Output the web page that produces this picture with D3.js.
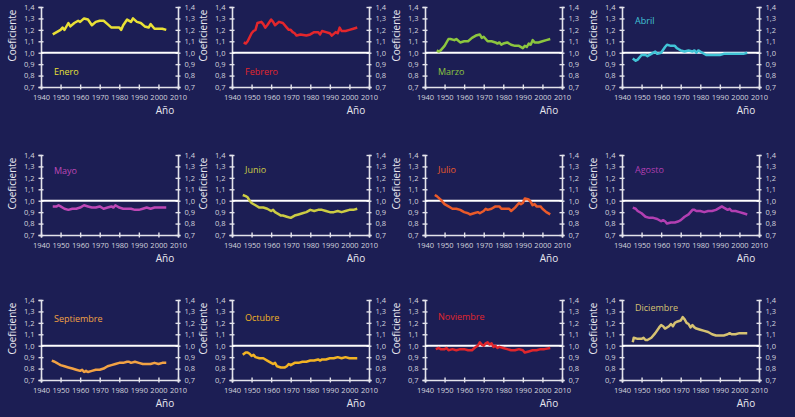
<!DOCTYPE html>
<html>
<head>
<meta charset="utf-8">
<script src="https://cdn.jsdelivr.net/npm/d3@7"></script>
<style>
  html, body { margin: 0; padding: 0; background: #1c1e54; }
  svg { display: block; }
  text { font-family: "Open Sans", "Liberation Sans", sans-serif; }
</style>
</head>
<body>
<svg id="chart"></svg>
<script>
// data: [year, coefficient]
const months = ["Enero", "Febrero", "Marzo", "Abril", "Mayo", "Junio",
  "Julio", "Agosto", "Septiembre", "Octubre", "Noviembre", "Diciembre"];

const enero = [[1946,1.16],[1948,1.18],[1950,1.20],[1951,1.22],[1952,1.20],[1954,1.26],[1955,1.23],[1957,1.26],
  [1959,1.28],[1960,1.27],[1962,1.30],[1964,1.29],[1966,1.24],[1968,1.27],[1970,1.28],[1972,1.28],[1974,1.25],
  [1976,1.22],[1978,1.22],[1980,1.22],[1981,1.20],[1982,1.24],[1984,1.29],[1986,1.27],[1987,1.30],[1989,1.27],
  [1991,1.26],[1993,1.23],[1995,1.22],[1996,1.25],[1998,1.21],[2000,1.21],[2002,1.21],[2004,1.20]];
const febrero = [[1946,1.09],[1947,1.08],[1948,1.10],[1950,1.17],[1951,1.19],[1952,1.20],[1953,1.26],[1955,1.27],
  [1956,1.25],[1957,1.22],[1958,1.24],[1960,1.29],[1961,1.27],[1962,1.24],[1964,1.27],[1966,1.26],[1968,1.22],
  [1969,1.20],[1970,1.20],[1971,1.18],[1972,1.17],[1973,1.15],[1975,1.16],[1978,1.15],[1980,1.16],[1982,1.18],
  [1984,1.18],[1985,1.16],[1986,1.19],[1988,1.18],[1990,1.17],[1991,1.15],[1993,1.18],[1994,1.17],[1995,1.22],
  [1996,1.19],[1998,1.19],[2000,1.20],[2002,1.21],[2004,1.22]];
const marzo = [[1946,1.02],[1947,1.01],[1948,1.02],[1950,1.06],[1952,1.12],[1953,1.12],[1955,1.11],[1956,1.12],
  [1958,1.09],[1960,1.10],[1962,1.10],[1964,1.13],[1966,1.15],[1968,1.16],[1969,1.13],[1970,1.14],[1972,1.10],
  [1974,1.10],[1976,1.09],[1977,1.08],[1978,1.09],[1979,1.07],[1980,1.08],[1982,1.09],[1984,1.07],[1986,1.06],
  [1988,1.06],[1990,1.04],[1991,1.06],[1992,1.05],[1993,1.08],[1994,1.07],[1995,1.11],[1996,1.09],[1998,1.09],
  [2000,1.10],[2002,1.11],[2004,1.12]];
const abril = [[1945.5,0.95],[1947,0.93],[1948,0.94],[1950,0.98],[1952,0.98],[1953,0.97],[1955,0.99],[1957,1.01],
  [1958,0.99],[1960,1.00],[1962,1.05],[1963,1.07],[1965,1.06],[1967,1.06],[1968,1.04],[1969,1.03],[1970,1.02],
  [1972,1.01],[1974,1.02],[1976,1.01],[1977,1.02],[1978,1.00],[1979,1.02],[1981,1.00],[1983,0.98],[1985,0.98],
  [1987,0.98],[1990,0.98],[1992,0.99],[1995,0.99],[1998,0.99],[2000,0.99],[2002,0.99],[2004,1.00]];
const mayo = [[1946,0.95],[1948,0.95],[1949,0.96],[1950,0.95],[1952,0.93],[1954,0.92],[1956,0.93],[1958,0.93],
  [1960,0.94],[1962,0.96],[1964,0.95],[1966,0.94],[1968,0.94],[1970,0.95],[1972,0.93],[1974,0.94],[1976,0.95],
  [1977,0.94],[1978,0.96],[1980,0.94],[1982,0.93],[1984,0.93],[1986,0.93],[1988,0.92],[1990,0.92],[1992,0.93],
  [1994,0.94],[1996,0.93],[1998,0.94],[2000,0.94],[2002,0.94],[2004,0.94]];
const junio = [[1945.5,1.05],[1947,1.04],[1948,1.03],[1949,1.00],[1950,0.98],[1952,0.96],[1954,0.94],[1956,0.94],
  [1958,0.93],[1960,0.91],[1961,0.92],[1962,0.90],[1964,0.88],[1965,0.87],[1966,0.87],[1968,0.86],[1970,0.85],
  [1972,0.87],[1974,0.88],[1976,0.89],[1978,0.90],[1980,0.92],[1982,0.91],[1984,0.92],[1986,0.92],[1988,0.91],
  [1990,0.90],[1992,0.90],[1994,0.91],[1996,0.90],[1998,0.91],[2000,0.92],[2002,0.92],[2004,0.93]];
const julio = [[1945,1.05],[1946,1.04],[1948,1.01],[1950,0.97],[1952,0.95],[1954,0.93],[1956,0.93],[1958,0.92],
  [1960,0.90],[1962,0.89],[1963,0.88],[1965,0.89],[1967,0.90],[1968,0.89],[1970,0.91],[1971,0.93],[1972,0.92],
  [1974,0.93],[1976,0.95],[1978,0.95],[1979,0.93],[1981,0.93],[1983,0.93],[1984,0.91],[1986,0.94],[1988,0.98],
  [1989,0.97],[1990,0.98],[1991,1.02],[1993,1.01],[1994,0.99],[1995,0.96],[1996,0.97],[1997,0.95],[1999,0.95],
  [2000,0.93],[2002,0.90],[2004,0.88]];
const agosto = [[1945.5,0.94],[1947,0.93],[1948,0.91],[1950,0.89],[1952,0.86],[1954,0.85],[1956,0.85],[1958,0.84],
  [1960,0.82],[1961,0.83],[1962,0.82],[1963,0.80],[1965,0.81],[1967,0.81],[1969,0.82],[1970,0.83],[1972,0.86],
  [1974,0.88],[1976,0.92],[1977,0.92],[1978,0.91],[1980,0.91],[1982,0.90],[1984,0.91],[1986,0.91],[1988,0.92],
  [1990,0.94],[1991,0.95],[1992,0.94],[1994,0.92],[1995,0.93],[1996,0.91],[1998,0.91],[2000,0.90],[2002,0.89],
  [2004,0.88]];
const septiembre = [[1945.5,0.87],[1947,0.86],[1948,0.85],[1949,0.84],[1950,0.83],[1952,0.82],[1954,0.81],
  [1956,0.80],[1958,0.79],[1960,0.78],[1961,0.79],[1962,0.77],[1963,0.78],[1964,0.77],[1966,0.78],[1968,0.79],
  [1970,0.79],[1972,0.80],[1974,0.82],[1976,0.83],[1978,0.84],[1980,0.85],[1982,0.85],[1984,0.86],[1985,0.86],
  [1986,0.85],[1988,0.86],[1990,0.85],[1992,0.84],[1994,0.84],[1996,0.84],[1998,0.85],[2000,0.84],[2002,0.85],
  [2004,0.85]];
const octubre = [[1945.5,0.92],[1947,0.94],[1948,0.94],[1949,0.93],[1950,0.91],[1951,0.92],[1952,0.90],[1954,0.89],
  [1956,0.89],[1958,0.87],[1960,0.85],[1961,0.84],[1962,0.85],[1963,0.82],[1965,0.81],[1967,0.81],[1968,0.82],
  [1969,0.84],[1970,0.83],[1972,0.85],[1974,0.85],[1976,0.86],[1978,0.86],[1980,0.87],[1982,0.87],[1984,0.88],
  [1985,0.87],[1986,0.88],[1988,0.88],[1990,0.89],[1992,0.89],[1994,0.90],[1996,0.89],[1998,0.90],[2000,0.89],
  [2002,0.89],[2004,0.89]];
const noviembre = [[1945.5,0.97],[1947,0.98],[1948,0.97],[1950,0.97],[1951,0.98],[1952,0.96],[1954,0.97],
  [1956,0.96],[1958,0.97],[1960,0.97],[1962,0.96],[1964,0.96],[1966,0.99],[1967,1.00],[1968,1.03],[1969,1.01],
  [1970,1.00],[1971,1.02],[1972,1.03],[1973,1.01],[1974,1.02],[1975,0.99],[1976,1.00],[1977,0.98],[1978,0.99],
  [1980,0.98],[1982,0.97],[1984,0.96],[1986,0.96],[1988,0.97],[1990,0.96],[1991,0.94],[1993,0.95],[1995,0.96],
  [1997,0.96],[1999,0.97],[2001,0.97],[2004,0.98]];
const diciembre = [[1945.5,1.03],[1946,1.07],[1948,1.06],[1950,1.06],[1951,1.07],[1952,1.05],[1953,1.05],
  [1955,1.07],[1957,1.11],[1959,1.16],[1960,1.18],[1961,1.17],[1962,1.15],[1964,1.17],[1965,1.19],[1966,1.17],
  [1967,1.20],[1968,1.21],[1970,1.22],[1971,1.25],[1972,1.23],[1973,1.20],[1974,1.19],[1975,1.16],[1976,1.18],
  [1977,1.16],[1978,1.15],[1980,1.14],[1982,1.13],[1984,1.12],[1986,1.10],[1988,1.09],[1990,1.09],[1992,1.09],
  [1994,1.10],[1995,1.11],[1996,1.10],[1998,1.10],[2000,1.11],[2002,1.11],[2004,1.11]];

const series = [enero, febrero, marzo, abril, mayo, junio, julio, agosto, septiembre, octubre, noviembre, diciembre];
const yearTicks = [1940, 1950, 1960, 1970, 1980, 1990, 2000, 2010];
const coefTicks = [0.7, 0.8, 0.9, 1.0, 1.1, 1.2, 1.3, 1.4];

// styling / layout
const colors = ["#e9e036", "#e3262c", "#8cc63f", "#41c3d6", "#bd48b6", "#cccc44",
  "#ea5a2a", "#b23fb2", "#f2a244", "#f2b324", "#e0262c", "#d6c272"];
const labelLevel = [0.835, 0.835, 0.835, 1.28, 1.26, 1.27, 1.27, 1.27, 1.235, 1.24, 1.25, 1.33];
const colX = [41, 232, 425, 622];
const rowY = [7, 155, 300];
const W = 137, H = 80;
const axisColor = "#e4e4ec";

const svg = d3.select("#chart").attr("width", 795).attr("height", 417);
svg.append("rect").attr("width", 795).attr("height", 417).attr("fill", "#1c1e54");

const fmt = d => d3.format(".1f")(d).replace(".", ",");

series.forEach((data, i) => {
  const g = svg.append("g")
    .attr("transform", `translate(${colX[i % 4]},${rowY[Math.floor(i / 4)]})`);

  const x = d3.scaleLinear().domain([1940, 2010]).range([0, W]);
  const y = d3.scaleLinear().domain([0.7, 1.4]).range([H, 0]);

  // left axis
  const left = g.append("g")
    .call(d3.axisLeft(y).tickValues(coefTicks).tickFormat(fmt).tickSize(2.5).tickPadding(4));
  // right axis
  const right = g.append("g")
    .attr("transform", `translate(${W},0)`)
    .call(d3.axisRight(y).tickValues(coefTicks).tickFormat(fmt).tickSize(2.5).tickPadding(4));
  // bottom axis
  const bottom = g.append("g")
    .attr("transform", `translate(0,${H})`)
    .call(d3.axisBottom(x).tickValues(yearTicks).tickFormat(d3.format("d")).tickSize(2.5).tickPadding(5));

  [left, right].forEach(a => a.selectAll(".tick line").attr("x1", -2.5).attr("x2", 2.5));
  bottom.selectAll(".tick line").attr("y1", -2.5).attr("y2", 2.5);

  [left, right, bottom].forEach(a => {
    a.select(".domain").attr("stroke", axisColor).attr("stroke-width", 1.6);
    a.selectAll(".tick line").attr("stroke", axisColor).attr("stroke-width", 1.4);
    a.selectAll(".tick text").attr("fill", "#d4d4de").style("font-size", "7.5px")
      .style("font-family", "'Open Sans', sans-serif");
  });

  // reference line at 1,0
  g.append("line")
    .attr("x1", 0).attr("x2", W)
    .attr("y1", y(1)).attr("y2", y(1))
    .attr("stroke", "#ffffff").attr("stroke-width", 2);

  // series line
  const line = d3.line().x(d => x(d[0])).y(d => y(d[1]));
  g.append("path")
    .datum(data)
    .attr("d", line)
    .attr("fill", "none")
    .attr("stroke", colors[i])
    .attr("stroke-width", 2.5)
    .attr("stroke-linejoin", "round");

  // month label
  g.append("text")
    .attr("x", 13)
    .attr("y", y(labelLevel[i]))
    .attr("dy", "0.35em")
    .attr("fill", colors[i])
    .style("font-size", "9px")
    .text(months[i]);

  // axis titles
  g.append("text")
    .attr("transform", `translate(-25,${y(1.15)}) rotate(-90)`)
    .attr("text-anchor", "middle")
    .attr("fill", "#e8e8f0")
    .style("font-size", "10px")
    .text("Coeficiente");

  g.append("text")
    .attr("x", W - 13)
    .attr("y", H + 23)
    .attr("dy", "0.35em")
    .attr("text-anchor", "middle")
    .attr("fill", "#e8e8f0")
    .style("font-size", "10px")
    .text("Año");
});
</script>
</body>
</html>
